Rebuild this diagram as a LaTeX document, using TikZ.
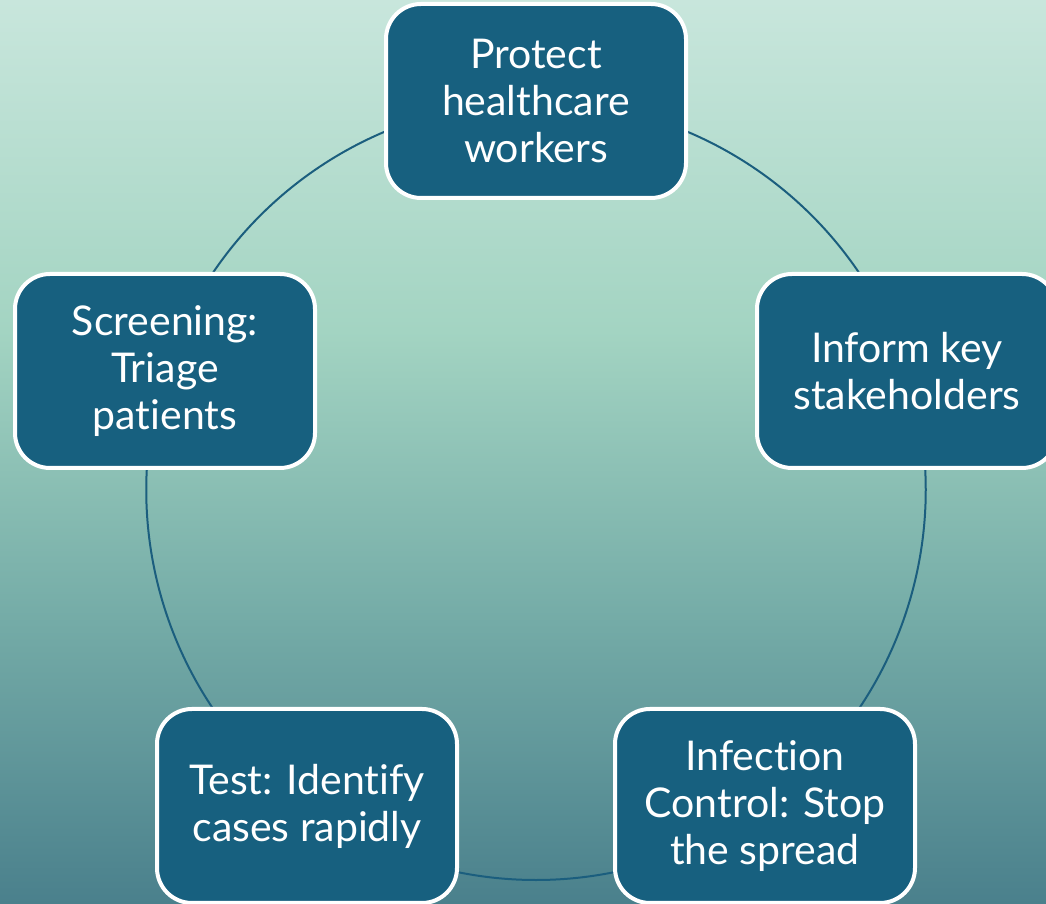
\documentclass[tikz,border=0pt]{standalone}
\usepackage{fontspec}
\setmainfont{Lato}[Ligatures=NoCommon]
\definecolor{boxblue}{HTML}{17607F}
\definecolor{ringblue}{HTML}{1B5E7E}
\definecolor{bgtop}{HTML}{C8E6DC}
\definecolor{bgmint}{HTML}{A3D4C2}
\definecolor{bgsea}{HTML}{76ADA8}
\definecolor{bgbot}{HTML}{4A808C}
\pgfdeclareverticalshading{bgshade}{100bp}{color(0bp)=(bgbot); color(25bp)=(bgbot); color(41.3bp)=(bgsea); color(56.7bp)=(bgmint); color(75bp)=(bgtop); color(100bp)=(bgtop)}
\pgfdeclarelayer{backdrop}
\pgfdeclarelayer{ringlayer}
\pgfsetlayers{backdrop,ringlayer,main}

\begin{document}
\begin{tikzpicture}[x=0.5pt,y=0.5pt,
    stepbox/.style={draw=white,line width=2pt,fill=boxblue,rounded corners=17.5pt,
        minimum width=150pt,minimum height=97pt,align=center,text=white,
        font=\fontsize{20.5}{23.5}\selectfont},
    ring/.style={draw=ringblue,line width=1pt,bend left=36,looseness=0.94}]
        \useasboundingbox (0,0) rectangle (1046,904);
        \begin{pgfonlayer}{backdrop}
            \shade[shading=bgshade] (0,0) rectangle (1046,904);
        \end{pgfonlayer}
        % five steps round the ring
        \node[stepbox] (protect) at (536,803) {Protect\\healthcare\\workers};
        \node[stepbox] (inform) at (907,533) {Inform key\\stakeholders};
        \node[stepbox] (control) at (765,98) {Infection\\Control: Stop\\the spread};
        \node[stepbox] (test) at (307,98) {Test: Identify\\cases rapidly};
        \node[stepbox] (screen) at (165,533) {Screening:\\Triage\\patients};
        \begin{pgfonlayer}{ringlayer}
            \draw[ring] (protect.center) to (inform.center);
            \draw[ring] (inform.center) to (control.center);
            \draw[ring] (control.center) to (test.center);
            \draw[ring] (test.center) to (screen.center);
            \draw[ring] (screen.center) to (protect.center);
        \end{pgfonlayer}
    \end{tikzpicture}
\end{document}
